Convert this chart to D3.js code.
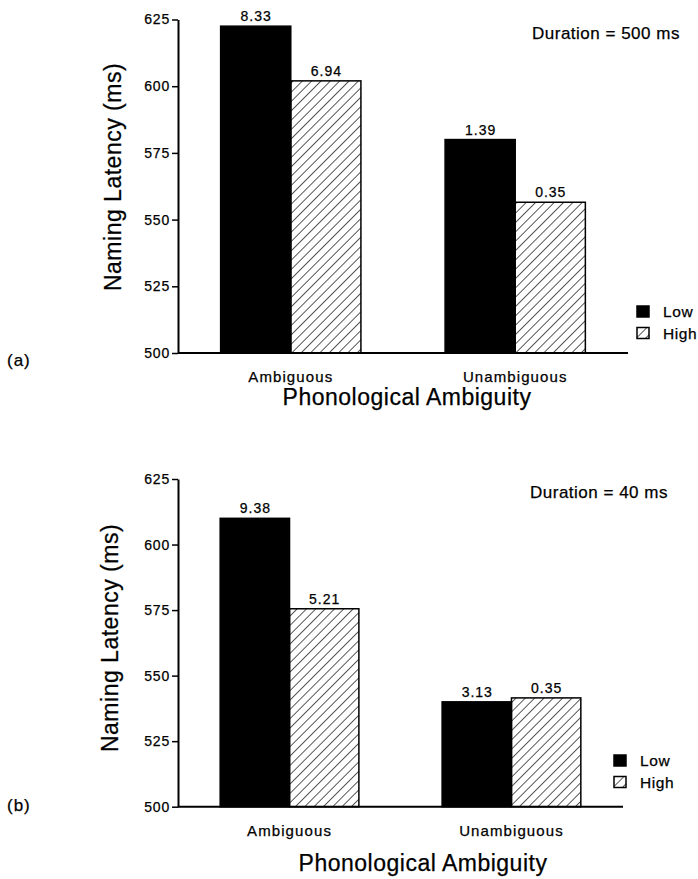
<!DOCTYPE html>
<html>
<head>
<meta charset="utf-8">
<script src="https://cdn.jsdelivr.net/npm/d3@7"></script>
<style>
  body { margin: 0; background: #fff; }
  svg { display: block; font-family: "Liberation Sans", Arial, sans-serif; }
  text { stroke: #000; stroke-width: 0.25px; }
</style>
</head>
<body>
<svg id="chart" width="698" height="879"></svg>
<script>
// data
var categories = ["Ambiguous", "Unambiguous"];
var series = ["Low", "High"];
var yTicks = [500, 525, 550, 575, 600, 625];

var lowA = [622.5, 580];
var highA = [602, 556.5];
var lowLabelsA = ["8.33", "1.39"];
var highLabelsA = ["6.94", "0.35"];

var lowB = [610, 540];
var highB = [575.5, 541.5];
var lowLabelsB = ["9.38", "3.13"];
var highLabelsB = ["5.21", "0.35"];

var svg = d3.select("#chart");

var defs = svg.append("defs");
defs.append("pattern")
  .attr("id", "hatch")
  .attr("patternUnits", "userSpaceOnUse")
  .attr("width", 6.6).attr("height", 6.6)
  .attr("patternTransform", "rotate(45)")
  .append("line")
  .attr("x1", 0).attr("y1", 0).attr("x2", 0).attr("y2", 6.6)
  .attr("stroke", "#000").attr("stroke-width", 1.3);

var fills = {Low: "#000", High: "url(#hatch)"};

function panel(p) {
  var g = svg.append("g");
  var x = d3.scaleBand().domain(categories)
    .range([p.left, p.right]).paddingInner(0.375).paddingOuter(0.19);
  var xs = d3.scaleBand().domain(series).range([0, x.bandwidth()]);
  var y = d3.scaleLinear().domain([500, 625]).range([p.bottom, p.top]);

  var rows = [];
  categories.forEach(function(c, i){
    rows.push({cat: c, s: "Low", v: p.low[i], lab: p.lowLab[i]});
    rows.push({cat: c, s: "High", v: p.high[i], lab: p.highLab[i]});
  });

  g.selectAll(".bar").data(rows).enter().append("rect")
    .attr("class", "bar")
    .attr("x", function(d){ return x(d.cat) + xs(d.s); })
    .attr("y", function(d){ return y(d.v); })
    .attr("width", xs.bandwidth())
    .attr("height", function(d){ return y(500) - y(d.v); })
    .attr("fill", function(d){ return fills[d.s]; })
    .attr("stroke", "#000").attr("stroke-width", 1.5);

  g.selectAll(".val").data(rows).enter().append("text")
    .attr("x", function(d){ return x(d.cat) + xs(d.s) + xs.bandwidth()/2 + 0.5; })
    .attr("y", function(d){ return y(d.v) - 5; })
    .attr("text-anchor", "middle")
    .attr("font-size", 14).attr("letter-spacing", 1)
    .text(function(d){ return d.lab; });

  // axes
  var ya = g.append("g").attr("transform", "translate(" + p.left + ",0)")
    .call(d3.axisLeft(y).tickValues(yTicks).tickSize(6).tickPadding(2).tickSizeOuter(0));
  ya.select(".domain").attr("stroke-width", 2);
  ya.selectAll(".tick line").attr("stroke-width", 1.5);
  ya.selectAll("text").attr("font-size", 14).attr("letter-spacing", 0.8)
    .attr("font-family", "Liberation Sans, Arial, sans-serif");

  g.append("line")
    .attr("x1", p.left).attr("x2", p.right)
    .attr("y1", y(500)).attr("y2", y(500))
    .attr("stroke", "#000").attr("stroke-width", 2);

  g.selectAll(".cat").data(categories).enter().append("text")
    .attr("x", function(d){ return x(d) + x.bandwidth()/2; })
    .attr("y", y(500) + 29)
    .attr("text-anchor", "middle")
    .attr("font-size", 15).attr("letter-spacing", 1.1)
    .text(function(d){ return d; });

  g.append("text")
    .attr("x", p.xTitleX).attr("y", p.xTitleY)
    .attr("text-anchor", "middle").attr("font-size", 23).attr("letter-spacing", 0.5)
    .text("Phonological Ambiguity");

  g.append("text")
    .attr("transform", "translate(" + p.yTitleX + "," + p.yTitleY + ") rotate(-90)")
    .attr("text-anchor", "middle").attr("font-size", 23).attr("letter-spacing", 0.5)
    .text("Naming Latency (ms)");

  g.append("text")
    .attr("x", 7).attr("y", p.tagY)
    .attr("font-size", 17).attr("letter-spacing", 1)
    .text(p.tag);

  g.append("text")
    .attr("x", p.durX).attr("y", p.durY)
    .attr("font-size", 17).attr("letter-spacing", 0.5)
    .text(p.dur);

  // legend
  var lg = g.selectAll(".leg").data(series).enter().append("g")
    .attr("transform", function(d, i){ return "translate(" + p.legX + "," + (p.legY + i*21.5) + ")"; });
  lg.append("rect")
    .attr("width", 12).attr("height", 11)
    .attr("fill", function(d){ return fills[d]; })
    .attr("stroke", "#000").attr("stroke-width", 1.5);
  lg.append("text")
    .attr("x", 26).attr("y", 11)
    .attr("font-size", 15.5).attr("letter-spacing", 0.6)
    .text(function(d){ return d; });
}

panel({
  left: 178, right: 628, top: 19.5, bottom: 353,
  low: lowA, high: highA, lowLab: lowLabelsA, highLab: highLabelsA,
  xTitleX: 407, xTitleY: 405, yTitleX: 121, yTitleY: 177,
  tag: "(a)", tagY: 366, dur: "Duration = 500 ms", durX: 532, durY: 39,
  legX: 637, legY: 306
});

panel({
  left: 178, right: 623, top: 479, bottom: 806.7,
  low: lowB, high: highB, lowLab: lowLabelsB, highLab: highLabelsB,
  xTitleX: 423, xTitleY: 871, yTitleX: 118, yTitleY: 638,
  tag: "(b)", tagY: 811, dur: "Duration = 40 ms", durX: 530, durY: 498,
  legX: 614, legY: 755
});
</script>
</body>
</html>
